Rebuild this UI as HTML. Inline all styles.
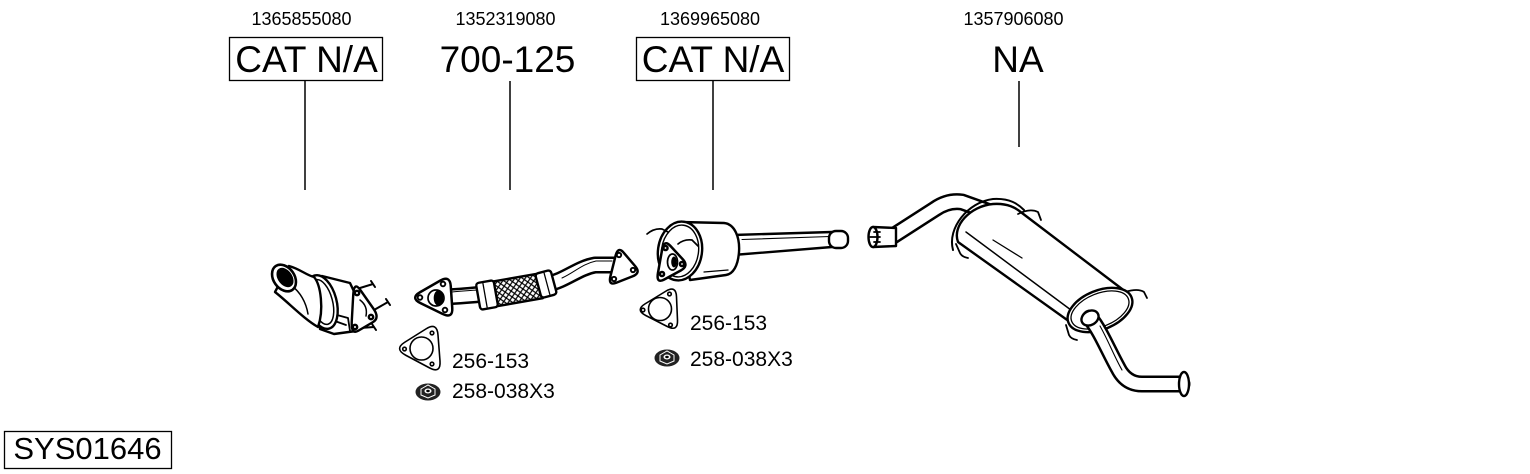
<!DOCTYPE html>
<html>
<head>
<meta charset="utf-8">
<style>
  html,body{margin:0;padding:0;background:#fff;}
  body{width:1530px;height:474px;overflow:hidden;}
  svg{display:block;}
  text{font-family:"Liberation Sans",Arial,sans-serif;fill:#000;}
</style>
</head>
<body>
<svg width="1530" height="474" viewBox="0 0 1530 474" xmlns="http://www.w3.org/2000/svg">
  <defs>
    <pattern id="mesh" patternUnits="userSpaceOnUse" width="6" height="6">
      <rect width="6" height="6" fill="#fff"/>
      <path d="M0,0 L6,6 M6,0 L0,6" stroke="#000" stroke-width="1.2"/>
    </pattern>
  </defs>

  <!-- Top part numbers -->
  <text x="301.5" y="25" font-size="18" text-anchor="middle">1365855080</text>
  <text x="505.5" y="25" font-size="18" text-anchor="middle">1352319080</text>
  <text x="710" y="25" font-size="18" text-anchor="middle">1369965080</text>
  <text x="1013.5" y="25" font-size="18" text-anchor="middle">1357906080</text>

  <!-- Big labels -->
  <rect x="229.5" y="37.5" width="153" height="43" fill="none" stroke="#000" stroke-width="1.3"/>
  <text x="306.5" y="72" font-size="37" text-anchor="middle">CAT N/A</text>
  <text x="507.5" y="72" font-size="37" text-anchor="middle">700-125</text>
  <rect x="636.5" y="37.5" width="153" height="43" fill="none" stroke="#000" stroke-width="1.3"/>
  <text x="713" y="72" font-size="37" text-anchor="middle">CAT N/A</text>
  <text x="1018" y="72" font-size="37" text-anchor="middle">NA</text>

  <!-- Leader lines -->
  <g stroke="#000" stroke-width="1.5">
    <line x1="305" y1="81" x2="305" y2="190"/>
    <line x1="510" y1="81" x2="510" y2="190"/>
    <line x1="713" y1="81" x2="713" y2="190"/>
    <line x1="1019" y1="81" x2="1019" y2="147"/>
  </g>

  <!-- SYS label -->
  <rect x="4.5" y="431.5" width="167" height="37" fill="none" stroke="#000" stroke-width="1.3"/>
  <text x="87.5" y="459" font-size="31" text-anchor="middle">SYS01646</text>

  <!-- ============ PART 1: catalytic converter ============ -->
  <g stroke="#000" stroke-width="2.4" fill="#fff" stroke-linejoin="round" stroke-linecap="round">
    <!-- studs -->
    <path d="M360,288 L373,284 M371,281 L375,287" stroke-width="2"/>
    <path d="M374,310 L388,302 M386,299 L390,305" stroke-width="2"/>
    <path d="M360,328 L374,327 M372,324 L376,330" stroke-width="2"/>
    <!-- body behind -->
    <path d="M322,276 L350,283 L358,300 L356,331 L334,334 L320,329 Z"/>
    <!-- bracket under -->
    <path d="M326,312 L348,318 L350,331 M332,320 L346,325" stroke-width="1.8" fill="none"/>
    <!-- flange -->
    <path d="M360.5,290.25 L373.5,308.75 Q380,318 372.75,322.25 L358.25,330.75 Q351,335 351.75,321.5 L353.25,294.5 Q354,281 360.5,290.25 Z" stroke-width="2.4"/>
    <circle cx="357" cy="293" r="2.2"/>
    <circle cx="371" cy="317" r="2.2"/>
    <circle cx="355" cy="327" r="2.2"/>
    <path d="M360,300 Q368,306 366,316" fill="none" stroke-width="1.5"/>
    <!-- ring -->
    <ellipse cx="322" cy="302" rx="14.5" ry="27.5" transform="rotate(-15 322 302)"/>
    <ellipse cx="322" cy="302" rx="10.5" ry="23" transform="rotate(-15 322 302)" stroke-width="1.5"/>
    <!-- cone -->
    <path d="M289,266 C300,269 306,275 314,277 C321,285 324,310 318,327 C304,319 289,303 275,292 Z"/>
    <path d="M292,286 C300,292 306,302 308,314" fill="none" stroke-width="1.5"/>
    <!-- opening -->
    <ellipse cx="284" cy="278" rx="10.5" ry="14.5" transform="rotate(-35 284 278)" stroke-width="2.6"/>
    <ellipse cx="285" cy="277.5" rx="6" ry="9.5" transform="rotate(-35 285 277.5)" fill="#000"/>
  </g>

  <!-- ============ PART 2: front pipe with flex ============ -->
  <g stroke-linejoin="round" stroke-linecap="round">
    <!-- pipe segment 1 -->
    <path d="M440,297 C455,297 470,295 486,294" fill="none" stroke="#000" stroke-width="17"/>
    <path d="M440,297 C455,297 470,295 486,294" fill="none" stroke="#fff" stroke-width="12"/>
    <path d="M452,292 C465,291 472,290 480,290" fill="none" stroke="#000" stroke-width="1"/>
    <!-- pipe segment 2 -->
    <path d="M548,284 C566,280 578,268 595,265 L620,265" fill="none" stroke="#000" stroke-width="17"/>
    <path d="M548,284 C566,280 578,268 595,265 L620,265" fill="none" stroke="#fff" stroke-width="12"/>
    <path d="M562,278 C575,272 582,264 596,261 L612,261" fill="none" stroke="#000" stroke-width="1"/>
    <!-- flex -->
    <g transform="translate(517,290) rotate(-10)">
      <rect x="-24" y="-12.5" width="48" height="25" fill="url(#mesh)" stroke="#000" stroke-width="2.4"/>
    </g>
    <!-- collars -->
    <g transform="translate(487,295) rotate(-10)">
      <rect x="-9" y="-13.5" width="18" height="27" rx="3" fill="#fff" stroke="#000" stroke-width="2.4"/>
      <line x1="-2" y1="-12" x2="-2" y2="12" stroke="#000" stroke-width="1.3"/>
    </g>
    <g transform="translate(546,284) rotate(-15)">
      <rect x="-8" y="-12.5" width="16" height="25" rx="3" fill="#fff" stroke="#000" stroke-width="2.4"/>
      <line x1="1" y1="-11" x2="1" y2="11" stroke="#000" stroke-width="1.3"/>
    </g>
    <!-- left flange -->
    <path d="M420,292.25 L440,280.75 Q450,275 450.75,286 L452.25,308 Q453,319 442.25,313.75 L420.75,303.25 Q410,298 420,292.25 Z" fill="#fff" stroke="#000" stroke-width="2.5"/>
    <circle cx="420" cy="297.5" r="2.3" fill="#fff" stroke="#000" stroke-width="1.9"/>
    <circle cx="443" cy="284" r="2.3" fill="#fff" stroke="#000" stroke-width="1.9"/>
    <circle cx="445" cy="310" r="2.3" fill="#fff" stroke="#000" stroke-width="1.9"/>
    <circle cx="436" cy="298" r="8" fill="#fff" stroke="#000" stroke-width="1.7"/>
    <ellipse cx="438.5" cy="298" rx="4.8" ry="7.8" fill="#000"/>
    <!-- right flange -->
    <path d="M623.75,252.75 L635.25,266.25 Q641,273 632.75,276.25 L616.25,282.75 Q608,286 610.5,276 L615.5,256 Q618,246 623.75,252.75 Z" fill="#fff" stroke="#000" stroke-width="2.5"/>
    <circle cx="619" cy="255" r="2.2" fill="#fff" stroke="#000" stroke-width="1.9"/>
    <circle cx="633" cy="270" r="2.2" fill="#fff" stroke="#000" stroke-width="1.9"/>
    <circle cx="614" cy="279" r="2.2" fill="#fff" stroke="#000" stroke-width="1.9"/>
  </g>

  <!-- Gasket 1 -->
  <g fill="none" stroke="#000" stroke-width="1.6">
    <path d="M404.75,342.25 L426.25,328.75 Q437,322 438,335 L440,361 Q441,374 429.25,367.75 L405.75,355.25 Q394,349 404.75,342.25 Z"/>
    <circle cx="421.5" cy="348.5" r="11.5"/>
    <circle cx="404.5" cy="349" r="1.8"/>
    <circle cx="432" cy="333" r="1.8"/>
    <circle cx="432" cy="364" r="1.8"/>
  </g>
  <!-- Nut 1 -->
  <g>
    <ellipse cx="428" cy="392" rx="12.5" ry="8.5" fill="#222"/>
    <path d="M421,389 L428,385 L435,389 L435,395 L428,398 L421,395 Z" fill="none" stroke="#fff" stroke-width="1"/>
    <ellipse cx="428" cy="391" rx="3.5" ry="2.5" fill="#fff"/>
    <ellipse cx="428" cy="391" rx="1.8" ry="1.2" fill="#000"/>
  </g>
  <text x="452" y="368" font-size="21">256-153</text>
  <text x="452" y="398" font-size="21">258-038X3</text>

  <!-- ============ PART 3: catalytic converter 2 ============ -->
  <g stroke="#000" stroke-width="2.4" fill="#fff" stroke-linejoin="round" stroke-linecap="round">
    <!-- outlet pipe -->
    <path d="M733,235 L832,232 L832,247 L733,255 Z"/>
    <path d="M742,239.5 L830,236.5" fill="none" stroke-width="1.1"/>
    <rect x="829" y="231" width="19" height="17" rx="7"/>
    <!-- body -->
    <path d="M680,222 L724,223 C735,224 740,238 739,252 C738,266 733,274 726,275 L690,280 Z"/>
    <path d="M704,272 L728,270" fill="none" stroke-width="1.3"/>
    <!-- ring -->
    <ellipse cx="680" cy="251" rx="22" ry="29.5" transform="rotate(8 680 251)"/>
    <ellipse cx="680" cy="251" rx="18.5" ry="26" transform="rotate(8 680 251)" stroke-width="1.4"/>
    <!-- hooks -->
    <path d="M647,234 Q654,228 662,229 L668,232" fill="none" stroke-width="1.7"/>
    <path d="M678,244 Q684,239 692,240 L698,246" fill="none" stroke-width="1.7"/>
    <!-- flange -->
    <path d="M670.25,245.75 L682.75,259.25 Q689,266 680.75,270.5 L664.25,279.5 Q656,284 658,272.75 L662,250.25 Q664,239 670.25,245.75 Z" stroke-width="2.5"/>
    <circle cx="665.5" cy="248" r="2.1"/>
    <circle cx="682" cy="264" r="2.1"/>
    <circle cx="662" cy="274" r="2.1"/>
    <ellipse cx="672.5" cy="262" rx="5" ry="8" fill="#fff" stroke-width="1.7"/>
    <ellipse cx="674" cy="262" rx="2.8" ry="5.5" fill="#000" stroke="none"/>
  </g>

  <!-- Gasket 2 -->
  <g fill="none" stroke="#000" stroke-width="1.6">
    <path d="M645.25,303.75 L665.75,291.25 Q676,285 676.5,296.75 L677.5,320.25 Q678,332 667.25,326.5 L645.75,315.5 Q635,310 645.25,303.75 Z"/>
    <circle cx="660" cy="309" r="11.5"/>
    <circle cx="643" cy="310" r="1.8"/>
    <circle cx="669.5" cy="294" r="1.8"/>
    <circle cx="670.5" cy="325" r="1.8"/>
  </g>
  <!-- Nut 2 -->
  <g>
    <ellipse cx="667" cy="358" rx="12.5" ry="8.5" fill="#222"/>
    <path d="M660,355 L667,351 L674,355 L674,361 L667,364 L660,361 Z" fill="none" stroke="#fff" stroke-width="1"/>
    <ellipse cx="667" cy="357" rx="3.5" ry="2.5" fill="#fff"/>
    <ellipse cx="667" cy="357" rx="1.8" ry="1.2" fill="#000"/>
  </g>
  <text x="690" y="330" font-size="21">256-153</text>
  <text x="690" y="366" font-size="21">258-038X3</text>

  <!-- ============ PART 4: rear muffler ============ -->
  <g stroke-linejoin="round" stroke-linecap="round">
    <!-- inlet pipe -->
    <path d="M893,236 L935,209 Q948,200 962,202 L990,212" fill="none" stroke="#000" stroke-width="17"/>
    <path d="M893,236 L935,209 Q948,200 962,202 L990,212" fill="none" stroke="#fff" stroke-width="12"/>
    <path d="M900,240 L942,213" fill="none" stroke="#000" stroke-width="1.1"/>
    <!-- inlet tip -->
    <path d="M873,227 L896,228 L896,246 L873,247" fill="#fff" stroke="#000" stroke-width="2.4"/>
    <ellipse cx="873" cy="237" rx="4.5" ry="10" fill="#fff" stroke="#000" stroke-width="2.4"/>
    <path d="M870,237 L880,237 M874,232 L880,232 M874,242 L880,242" stroke="#000" stroke-width="1.8" fill="none"/>
    <!-- muffler body -->
    <path d="M958,242 C952,226 970,206 993,204 C1008,203 1016,208 1022,213 L1126,292 L1070,322 Z" fill="#fff" stroke="#000" stroke-width="2.4"/>
    <path d="M953,250 C947,228 968,202 993,199 C1010,198 1018,204 1024,210" fill="none" stroke="#000" stroke-width="2"/>
    <path d="M966,232 L1075,313" fill="none" stroke="#000" stroke-width="1.5"/>
    <path d="M993,240 L1022,258" fill="none" stroke="#000" stroke-width="1.3"/>
    <!-- hooks -->
    <path d="M1018,214 Q1030,208 1038,212 L1041,220" fill="none" stroke="#000" stroke-width="1.8"/>
    <path d="M1125,292 Q1138,288 1144,292 L1147,298" fill="none" stroke="#000" stroke-width="1.8"/>
    <path d="M956,244 L960,253 Q962,257 968,258" fill="none" stroke="#000" stroke-width="1.8"/>
    <path d="M1066,325 L1069,335 Q1071,339 1077,340" fill="none" stroke="#000" stroke-width="1.8"/>
    <!-- end ellipse -->
    <ellipse cx="1100" cy="310" rx="34" ry="19.5" transform="rotate(-22 1100 310)" fill="#fff" stroke="#000" stroke-width="2.4"/>
    <ellipse cx="1100" cy="310" rx="30.5" ry="16.5" transform="rotate(-22 1100 310)" fill="none" stroke="#000" stroke-width="1.3"/>
    <!-- outlet pipe -->
    <path d="M1090,318 C1100,330 1108,350 1118,368 Q1126,384 1142,384 L1182,384" fill="none" stroke="#000" stroke-width="17"/>
    <path d="M1090,318 C1100,330 1108,350 1118,368 Q1126,384 1142,384 L1182,384" fill="none" stroke="#fff" stroke-width="12"/>
    <path d="M1100,326 C1108,340 1114,356 1122,370" fill="none" stroke="#000" stroke-width="1.1"/>
    <ellipse cx="1090" cy="318" rx="9" ry="7" transform="rotate(-30 1090 318)" fill="#fff" stroke="#000" stroke-width="2.4"/>
    <!-- outlet tip -->
    <ellipse cx="1184" cy="384" rx="5" ry="12" fill="#fff" stroke="#000" stroke-width="2.4"/>
  </g>
</svg>
</body>
</html>
